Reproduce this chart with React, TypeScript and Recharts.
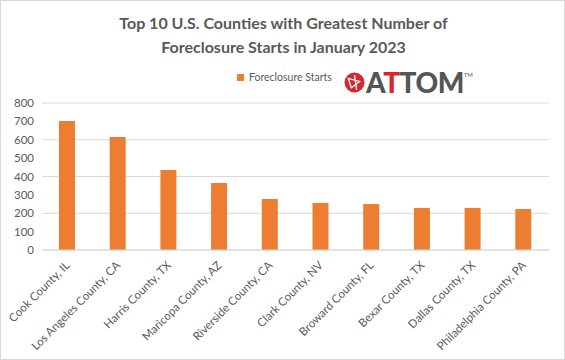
import { BarChart, Bar, XAxis, YAxis, CartesianGrid } from "recharts";

const counties = [
    "Cook County, IL",
    "Los Angeles County, CA",
    "Harris County, TX",
    "Maricopa County, AZ",
    "Riverside County, CA",
    "Clark County, NV",
    "Broward County, FL",
    "Bexar County, TX",
    "Dallas County, TX",
    "Philadelphia County, PA",
];
const starts = [702, 615, 435, 365, 278, 256, 250, 229, 229, 223];
const yTicks = [0, 100, 200, 300, 400, 500, 600, 700, 800];

const data = counties.map((name, i) => ({ name, value: starts[i] }));

const FONT = "Lato, 'Open Sans', sans-serif";
const GRAY = "#595959";

function CountyTick(props: any) {
    const { x, y, payload } = props;
    return (
        <text
            x={x + 3}
            y={y + 8}
            textAnchor="end"
            fontSize={11.5}
            fill={GRAY}
            fontFamily={FONT}
            transform={`rotate(-45 ${x + 3} ${y + 8})`}
        >
            {payload.value}
        </text>
    );
}

export default function App() {
    return (
        <div
            style={{
                position: "absolute",
                left: 0,
                top: 0,
                width: 563,
                height: 358,
                border: "1px solid #d9d9d9",
                background: "#fff",
                fontFamily: FONT,
                overflow: "hidden",
            }}
        >
            {/* Title */}
            <div
                style={{
                    position: "absolute",
                    top: 10,
                    left: 0,
                    width: 565,
                    textAlign: "center",
                    fontWeight: "bold",
                    fontSize: 16,
                    lineHeight: "24px",
                    color: GRAY,
                }}
            >
                Top 10 U.S. Counties with Greatest Number of
                <br />
                Foreclosure Starts in January 2023
            </div>

            {/* Legend */}
            <div style={{ position: "absolute", top: 70, left: 236, display: "flex", alignItems: "center" }}>
                <span style={{ width: 7, height: 7, background: "#ED7D31", display: "inline-block", marginRight: 5 }} />
                <span style={{ fontSize: 10.5, color: GRAY }}>Foreclosure Starts</span>
            </div>

            {/* ATTOM logo */}
            <div style={{ position: "absolute", top: 64, left: 343, display: "flex", alignItems: "center" }}>
                <svg width={21} height={21} viewBox="0 0 20 20" style={{ marginRight: 1 }}>
                    <circle cx={10} cy={10} r={9.5} fill="#d7262f" />
                    <path d="M4 6 L15 9 L7 15 Z M10 3 L12 17" stroke="#fff" strokeWidth={1.2} fill="none" />
                </svg>
                <span style={{ fontSize: 28, fontWeight: 900, color: "#555", letterSpacing: -0.5 }}>
                    A<span style={{ color: "#d7262f" }}>T</span>TOM
                </span>
                <span style={{ fontSize: 6, color: "#555", alignSelf: "flex-start", marginTop: 6 }}>TM</span>
            </div>

            <BarChart
                width={565}
                height={360}
                data={data}
                margin={{ top: 103, right: 16, bottom: 0, left: 0 }}
                barCategoryGap={0}
                style={{ position: "absolute", left: -1, top: -1 }}
            >
                <CartesianGrid vertical={false} stroke="#d9d9d9" />
                <XAxis
                    dataKey="name"
                    interval={0}
                    height={110}
                    tickLine={false}
                    axisLine={{ stroke: "#d9d9d9" }}
                    tick={<CountyTick />}
                />
                <YAxis
                    width={42}
                    domain={[0, 800]}
                    ticks={yTicks}
                    axisLine={false}
                    tickLine={false}
                    tick={{ fontSize: 11.5, fill: GRAY, fontFamily: FONT }}
                />
                <Bar dataKey="value" fill="#ED7D31" barSize={16} isAnimationActive={false} />
            </BarChart>
        </div>
    );
}
